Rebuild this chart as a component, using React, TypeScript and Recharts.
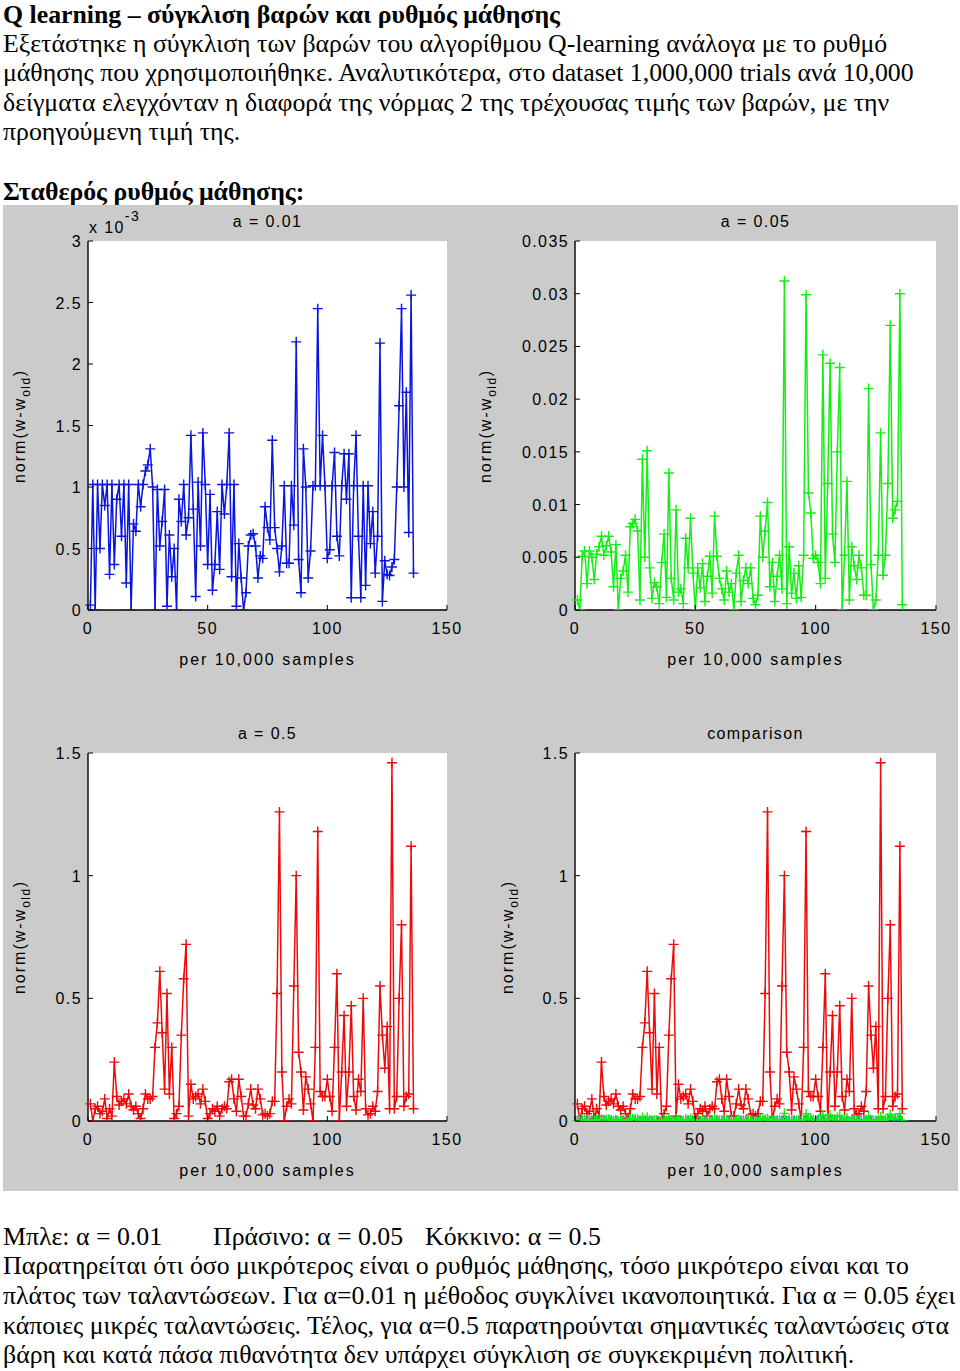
import { LineChart, Line, XAxis, YAxis } from 'recharts'

// norm(w - w_old) per 10,000 samples
// a = 0.01 (values in units of 10^-3, as on its axis)
const blueE3 = [
  0.04, 1.02, 0.0, 1.02, 0.5, 1.02, 0.85, 1.02, 0.29, 1.02,
  0.37, 0.9, 1.02, 0.6, 1.02, 0.22, 1.02, 0.0, 0.7, 0.64,
  1.02, 0.84, 1.02, 1.13, 1.18, 1.31, 1.0, 0.0, 0.98, 0.52,
  0.72, 0.98, 0.03, 0.61, 0.27, 0.5, 0.0, 0.9, 0.72, 1.02,
  0.61, 0.75, 1.42, 0.82, 0.11, 1.04, 0.52, 1.44, 1.02, 0.37,
  0.94, 0.16, 0.37, 0.8, 0.33, 1.02, 0.78, 1.02, 1.44, 0.27,
  1.02, 0.03, 0.54, 0.26, 0.0, 0.14, 0.52, 0.61, 0.62, 0.52,
  0.26, 0.44, 0.42, 0.84, 0.67, 0.57, 1.38, 0.67, 0.5, 0.31,
  0.52, 1.01, 0.38, 0.38, 1.01, 0.69, 2.18, 0.41, 0.14, 1.31,
  1.0, 0.26, 0.48, 1.01, 1.01, 2.45, 1.01, 1.42, 1.01, 0.42,
  0.49, 1.01, 1.28, 0.6, 0.44, 1.01, 1.27, 0.9, 1.27, 0.1,
  1.01, 1.42, 0.6, 0.1, 1.01, 0.2, 1.01, 0.54, 0.8, 0.3,
  0.6, 2.17, 0.07, 0.4, 0.29, 0.28, 0.35, 0.41, 1.0, 1.66,
  2.45, 1.0, 1.77, 0.63, 2.56, 0.3,
]

// a = 0.05
const green = [
  0.00095, 0.0, 0.0051, 0.0056, 0.0025, 0.0056, 0.005, 0.0029, 0.0053, 0.006,
  0.007, 0.0052, 0.0061, 0.007, 0.0055, 0.0022, 0.0062, 0.0, 0.003, 0.0037,
  0.0052, 0.0017, 0.0079, 0.0082, 0.0086, 0.0075, 0.00095, 0.0143, 0.005, 0.0151,
  0.004, 0.0011, 0.0026, 0.0022, 0.0006, 0.0045, 0.0072, 0.0012, 0.013, 0.003,
  0.00095, 0.0095, 0.0017, 0.002, 0.0006, 0.0068, 0.004, 0.0087, 0.0035, 0.0,
  0.004, 0.0021, 0.0044, 0.0008, 0.0032, 0.0051, 0.0016, 0.0089, 0.0051, 0.003,
  0.002, 0.00095, 0.0037, 0.0017, 0.0025, 0.0, 0.0035, 0.0052, 0.0008, 0.0028,
  0.004, 0.0025, 0.004, 0.0011, 0.0005, 0.0014, 0.0089, 0.005, 0.0075, 0.0102,
  0.0022, 0.0045, 0.0008, 0.0032, 0.0052, 0.002, 0.0312, 0.0006, 0.006, 0.0016,
  0.0035, 0.0011, 0.0042, 0.0012, 0.0052, 0.0299, 0.0111, 0.0092, 0.0049, 0.0052,
  0.0045, 0.0025, 0.0242, 0.003, 0.012, 0.0234, 0.0072, 0.0045, 0.015, 0.023,
  0.0, 0.0052, 0.0122, 0.00095, 0.006, 0.0042, 0.0029, 0.0052, 0.004, 0.0014,
  0.0014, 0.021, 0.0043, 0.0, 0.00095, 0.0052, 0.0168, 0.0033, 0.0052, 0.012,
  0.027, 0.0087, 0.0095, 0.0103, 0.03, 0.0005,
]

// a = 0.5
const red = [
  0.07, 0.0, 0.05, 0.06, 0.03, 0.04, 0.09, 0.01, 0.05, 0.02,
  0.24, 0.1, 0.065, 0.08, 0.09, 0.07, 0.11, 0.06, 0.045, 0.06,
  0.03, 0.01, 0.05, 0.11, 0.09, 0.09, 0.1, 0.3, 0.4, 0.61,
  0.36, 0.13, 0.52, 0.11, 0.3, 0.01, 0.03, 0.06, 0.35, 0.58,
  0.72, 0.02, 0.15, 0.09, 0.1, 0.11, 0.07, 0.13, 0.08, 0.01,
  0.03, 0.05, 0.04, 0.06, 0.02, 0.05, 0.06, 0.05, 0.16, 0.17,
  0.09, 0.04, 0.17, 0.1, 0.02, 0.02, 0.07, 0.13, 0.065, 0.05,
  0.13, 0.09, 0.025, 0.03, 0.02, 0.03, 0.08, 0.08, 0.52, 1.26,
  0.2, 0.0, 0.06, 0.09, 0.07, 0.55, 1.0, 0.28, 0.2, 0.045,
  0.18, 0.13, 0.07, 0.0, 0.3, 1.18, 0.12, 0.1, 0.1, 0.17,
  0.1, 0.04, 0.3, 0.6, 0.0, 0.2, 0.43, 0.06, 0.2, 0.47,
  0.1, 0.045, 0.17, 0.12, 0.5, 0.05, 0.025, 0.03, 0.06, 0.04,
  0.12, 0.55, 0.35, 0.215, 0.385, 0.05, 1.46, 0.05, 0.1, 0.5,
  0.8, 0.06, 0.1, 0.11, 1.12, 0.05,
]

const xTicks = [0, 50, 100, 150]
const blueTicks = [0, 0.5, 1, 1.5, 2, 2.5, 3]
const greenTicks = [0, 0.005, 0.01, 0.015, 0.02, 0.025, 0.03, 0.035]
const redTicks = [0, 0.5, 1, 1.5]

const rows = blueE3.map((b, i) => ({
  x: i + 1,
  blue: b,
  blueRaw: b / 1000,
  green: green[i],
  red: red[i],
}))

const BLUE = '#0a14e0'
const GREEN = '#14ee14'
const RED = '#ee0a0a'

const mFont = '"Liberation Sans", Arial, sans-serif'
const sFont = '"Liberation Serif", "Times New Roman", serif'
const GAP = 7
const XGAP = 4

const plus = (color: string) => (p: any) => {
  const { cx, cy, index } = p
  if (cx == null || cy == null) return <g key={index} />
  return (
    <path key={index} d={`M${cx - 5},${cy}H${cx + 5}M${cx},${cy - 5}V${cy + 5}`}
      stroke={color} strokeWidth={1.4} fill="none" />
  )
}

function YTick(p: any) {
  const { x, y, payload } = p
  return (
    <g>
      <line x1={x + GAP} x2={x + GAP + 5} y1={y} y2={y} stroke="#000" />
      <text x={x + 1} y={y + 6} textAnchor="end" fontFamily={mFont} fontSize={16} letterSpacing={1.4} fill="#000">
        {String(payload.value)}
      </text>
    </g>
  )
}

function XTick(p: any) {
  const { x, y, payload } = p
  return (
    <g>
      <line x1={x} x2={x} y1={y - XGAP} y2={y - XGAP - 5} stroke="#000" />
      <text x={x} y={y - XGAP + 24} textAnchor="middle" fontFamily={mFont} fontSize={16} letterSpacing={1.4} fill="#000">
        {String(payload.value)}
      </text>
    </g>
  )
}

type Box = { left: number; top: number; width: number; height: number }

function Subplot({ left, top, width, height, box, yMax, yTicks, series, title, ylabelOff, exponent }: {
  left: number; top: number; width: number; height: number; box: Box; yMax: number; yTicks: number[]
  series: { key: string; color: string }[]; title: string; ylabelOff: number; exponent?: boolean
}) {
  const lbl: any = {
    position: 'absolute', transform: 'translate(-50%,-50%)', whiteSpace: 'nowrap',
    fontFamily: mFont, fontSize: 16, letterSpacing: 2, color: '#000',
  }
  return (
    <div style={{ position: 'absolute', left, top, width, height }}>
      <div style={{ position: 'absolute', left: box.left, top: box.top, width: box.width, height: box.height, background: '#fff' }} />
      <div style={{ position: 'absolute', left: 0, top: 0 }}>
        <LineChart width={width} height={height} data={rows}
          margin={{ top: box.top, left: 0, right: width - box.left - box.width, bottom: 0 }}>
          <XAxis dataKey="x" type="number" domain={[0, 150]} ticks={xTicks} height={height - box.top - box.height}
            axisLine={{ stroke: '#000', strokeWidth: 1.4 }} tickLine={false} tickSize={0} tickMargin={XGAP} tick={(p: any) => <XTick {...p} />} />
          <YAxis type="number" domain={[0, yMax]} ticks={yTicks} width={box.left} allowDataOverflow
            axisLine={{ stroke: '#000', strokeWidth: 1.4 }} tickLine={false} tickSize={0} tickMargin={GAP} tick={(p: any) => <YTick {...p} />} />
          {series.map((s) => (
            <Line key={s.key} type="linear" dataKey={s.key} stroke={s.color} strokeWidth={1.5}
              dot={plus(s.color)} activeDot={false} isAnimationActive={false} />
          ))}
        </LineChart>
      </div>
      <div style={{ ...lbl, letterSpacing: 1.4, left: box.left + box.width / 2, top: box.top - 19 }}>{title}</div>
      <div style={{ ...lbl, left: box.left + box.width / 2, top: box.top + box.height + 50 }}>per 10,000 samples</div>
      <div style={{ ...lbl, left: box.left - ylabelOff, top: box.top + box.height / 2, transform: 'translate(-50%,-50%) rotate(-90deg)' }}>
        norm(w-w<sub style={{ fontSize: 12, letterSpacing: 1.5 }}>old</sub>)
      </div>
      {exponent && (
        <div style={{ ...lbl, letterSpacing: 1.4, transform: 'none', left: box.left + 1, top: box.top - 27 }}>
          x 10<sup style={{ fontSize: 14, position: 'relative', top: -6 }}>-3</sup>
        </div>
      )}
    </div>
  )
}

const line = (top: number, text: any, bold = false, left = 3) => (
  <div style={{ position: 'absolute', left, top, fontFamily: sFont, fontSize: 25.8, lineHeight: '30px', fontWeight: bold ? 700 : 400, whiteSpace: 'nowrap' }}>
    {text}
  </div>
)

export default function App() {
  return (
    <div style={{ position: 'absolute', left: 0, top: 0, width: 960, height: 1371, background: '#fff', color: '#000', overflow: 'hidden' }}>
      {line(0, 'Q learning – σύγκλιση βαρών και ρυθμός μάθησης', true)}
      {line(29, 'Εξετάστηκε η σύγκλιση των βαρών του αλγορίθμου Q-learning ανάλογα με το ρυθμό')}
      {line(58, 'μάθησης που χρησιμοποιήθηκε. Αναλυτικότερα, στο dataset 1,000,000 trials ανά 10,000')}
      {line(88, 'δείγματα ελεγχόνταν η διαφορά της νόρμας 2 της τρέχουσας τιμής των βαρών, με την')}
      {line(117, 'προηγούμενη τιμή της.')}
      {line(177, 'Σταθερός ρυθμός μάθησης:', true)}

      <div style={{ position: 'absolute', left: 3, top: 205, width: 955, height: 986, background: '#cbcbcb' }}>
        <Subplot left={0} top={0} width={478} height={493} box={{ left: 85, top: 36, width: 359, height: 369 }}
          yMax={3} yTicks={blueTicks} series={[{ key: 'blue', color: BLUE }]} title="a = 0.01" ylabelOff={66} exponent />
        <Subplot left={478} top={0} width={477} height={493} box={{ left: 94, top: 36, width: 361, height: 369 }}
          yMax={0.035} yTicks={greenTicks} series={[{ key: 'green', color: GREEN }]} title="a = 0.05" ylabelOff={87} />
        <Subplot left={0} top={493} width={478} height={493} box={{ left: 85, top: 55, width: 359, height: 368 }}
          yMax={1.5} yTicks={redTicks} series={[{ key: 'red', color: RED }]} title="a = 0.5" ylabelOff={66} />
        <Subplot left={478} top={493} width={477} height={493} box={{ left: 94, top: 55, width: 361, height: 368 }}
          yMax={1.5} yTicks={redTicks}
          series={[{ key: 'red', color: RED }, { key: 'blueRaw', color: BLUE }, { key: 'green', color: GREEN }]}
          title="comparison" ylabelOff={65} />
      </div>

      {line(1222, 'Μπλε: α = 0.01')}
      {line(1222, 'Πράσινο: α = 0.05', false, 213)}
      {line(1222, 'Κόκκινο: α = 0.5', false, 425)}
      {line(1251, 'Παρατηρείται ότι όσο μικρότερος είναι ο ρυθμός μάθησης, τόσο μικρότερο είναι και το')}
      {line(1281, 'πλάτος των ταλαντώσεων. Για α=0.01 η μέθοδος συγκλίνει ικανοποιητικά. Για α = 0.05 έχει')}
      {line(1311, 'κάποιες μικρές ταλαντώσεις. Τέλος, για α=0.5 παρατηρούνται σημαντικές ταλαντώσεις στα')}
      {line(1340, 'βάρη και κατά πάσα πιθανότητα δεν υπάρχει σύγκλιση σε συγκεκριμένη πολιτική.')}
    </div>
  )
}
